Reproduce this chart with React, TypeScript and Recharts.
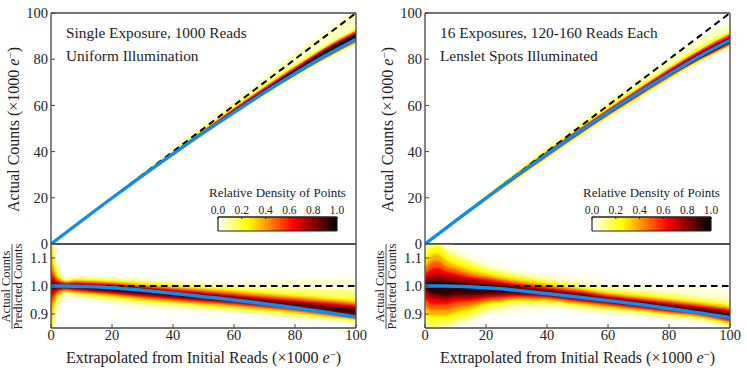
import { ComposedChart, Area, Line, XAxis, YAxis } from 'recharts';

const FONT = "'Liberation Serif', serif";
const INK = '#222';
const AXIS = '#444';
const BLUE = '#0f8bf2';

// density levels, low to high (hot_r colormap)
const ratioFills = ['#ffffd7', '#ffff73', '#ffff05', '#ffb100', '#ff5a00', '#f50000', '#990000', '#2e0000'];
const countFills = ['#ffffc0', '#ffff05', '#ff5a00', '#c80000', '#200000'];

const xTicks = [0, 20, 40, 60, 80, 100];
const countTicks = [0, 20, 40, 60, 80, 100];
const ratioTicks = [0.9, 1.0, 1.1];
const densityTicks = [0, 0.2, 0.4, 0.6, 0.8, 1];

// left ratio panel: each row is one x, each column one density level
const ratioXLeft = [0, 0.5, 1, 2, 3, 5, 8, 12, 20, 30, 40, 50, 60, 70, 80, 90, 100];
const ratioHiLeft = [
  [1.17, 1.17, 1.17, 1.17, 1.1, 1.06, 1.03, 1.015],
  [1.17, 1.17, 1.14, 1.09, 1.06, 1.04, 1.025, 1.012],
  [1.17, 1.12, 1.09, 1.06, 1.045, 1.03, 1.018, 1.008],
  [1.11, 1.07, 1.05, 1.035, 1.027, 1.02, 1.012, 1.006],
  [1.07, 1.045, 1.033, 1.025, 1.019, 1.014, 1.009, 1.004],
  [1.034, 1.024, 1.018, 1.015, 1.012, 1.009, 1.006, 1.003],
  [1.038, 1.03, 1.024, 1.02, 1.016, 1.012, 1.008, 1.004],
  [1.038, 1.03, 1.024, 1.018, 1.014, 1.01, 1.006, 1.002],
  [1.035, 1.027, 1.02, 1.014, 1.01, 1.006, 1.002, 0.998],
  [1.03, 1.02, 1.012, 1.006, 1.0, 0.996, 0.992, 0.988],
  [1.025, 1.012, 1.004, 0.997, 0.992, 0.987, 0.982, 0.977],
  [1.02, 1.006, 0.997, 0.99, 0.984, 0.978, 0.973, 0.967],
  [1.02, 1.0, 0.99, 0.982, 0.975, 0.968, 0.963, 0.957],
  [1.02, 0.996, 0.98, 0.972, 0.965, 0.958, 0.953, 0.947],
  [1.025, 0.992, 0.972, 0.963, 0.956, 0.949, 0.944, 0.937],
  [1.03, 0.988, 0.963, 0.954, 0.947, 0.94, 0.934, 0.927],
  [1.03, 0.985, 0.955, 0.945, 0.937, 0.93, 0.925, 0.918],
];
const ratioLoLeft = [
  [0.83, 0.83, 0.83, 0.83, 0.9, 0.94, 0.97, 0.985],
  [0.83, 0.83, 0.86, 0.91, 0.94, 0.96, 0.975, 0.988],
  [0.83, 0.88, 0.91, 0.94, 0.955, 0.97, 0.982, 0.992],
  [0.89, 0.93, 0.95, 0.965, 0.973, 0.98, 0.988, 0.994],
  [0.92, 0.955, 0.967, 0.975, 0.981, 0.986, 0.991, 0.996],
  [0.955, 0.972, 0.98, 0.983, 0.986, 0.989, 0.992, 0.996],
  [0.958, 0.966, 0.972, 0.977, 0.981, 0.985, 0.989, 0.994],
  [0.95, 0.96, 0.967, 0.973, 0.977, 0.981, 0.985, 0.99],
  [0.935, 0.948, 0.958, 0.965, 0.97, 0.974, 0.978, 0.983],
  [0.92, 0.937, 0.946, 0.953, 0.958, 0.963, 0.968, 0.974],
  [0.912, 0.93, 0.938, 0.944, 0.949, 0.954, 0.959, 0.965],
  [0.905, 0.92, 0.929, 0.935, 0.94, 0.945, 0.95, 0.956],
  [0.9, 0.912, 0.921, 0.927, 0.932, 0.937, 0.942, 0.947],
  [0.89, 0.902, 0.911, 0.917, 0.922, 0.927, 0.932, 0.938],
  [0.88, 0.892, 0.9, 0.906, 0.911, 0.916, 0.921, 0.927],
  [0.872, 0.882, 0.888, 0.893, 0.898, 0.903, 0.908, 0.914],
  [0.868, 0.873, 0.877, 0.881, 0.885, 0.889, 0.893, 0.899],
];
const ratioFitLeft = [1, 1, 1, 1, 1, 1, 0.999, 0.998, 0.994, 0.985, 0.974, 0.962, 0.95, 0.937, 0.922, 0.906, 0.889];
const ratioIdealLeft = [1, 1, 1, 1, 1, 1, 1, 1, 1, 1, 1, 1, 1, 1, 1, 1, 1];

// right ratio panel
const ratioXRight = [0, 2, 4, 7, 10, 15, 20, 25, 30, 40, 50, 60, 70, 80, 90, 100];
const ratioHiRight = [
  [1.17, 1.13, 1.1, 1.07, 1.055, 1.04, 1.025, 1.012],
  [1.17, 1.17, 1.135, 1.11, 1.085, 1.06, 1.04, 1.02],
  [1.17, 1.17, 1.145, 1.115, 1.09, 1.065, 1.042, 1.022],
  [1.17, 1.13, 1.115, 1.09, 1.07, 1.052, 1.035, 1.018],
  [1.135, 1.115, 1.098, 1.075, 1.06, 1.045, 1.032, 1.015],
  [1.115, 1.09, 1.075, 1.055, 1.042, 1.032, 1.022, 1.01],
  [1.09, 1.07, 1.057, 1.043, 1.033, 1.024, 1.015, 1.006],
  [1.075, 1.055, 1.043, 1.03, 1.022, 1.015, 1.008, 0.999],
  [1.06, 1.043, 1.033, 1.022, 1.013, 1.007, 1.0, 0.993],
  [1.045, 1.025, 1.015, 1.006, 0.999, 0.993, 0.987, 0.981],
  [1.03, 1.01, 1.0, 0.992, 0.986, 0.98, 0.975, 0.97],
  [1.015, 0.995, 0.983, 0.975, 0.969, 0.964, 0.959, 0.954],
  [1.005, 0.985, 0.972, 0.964, 0.957, 0.952, 0.947, 0.942],
  [1.0, 0.975, 0.96, 0.952, 0.946, 0.94, 0.935, 0.93],
  [0.995, 0.962, 0.948, 0.94, 0.934, 0.928, 0.923, 0.917],
  [0.985, 0.95, 0.935, 0.926, 0.92, 0.914, 0.908, 0.902],
];
const ratioLoRight = [
  [0.83, 0.87, 0.9, 0.92, 0.935, 0.955, 0.975, 0.99],
  [0.83, 0.83, 0.87, 0.895, 0.915, 0.935, 0.955, 0.975],
  [0.83, 0.853, 0.875, 0.895, 0.915, 0.935, 0.955, 0.97],
  [0.83, 0.86, 0.875, 0.895, 0.915, 0.935, 0.95, 0.965],
  [0.855, 0.87, 0.885, 0.905, 0.925, 0.942, 0.958, 0.97],
  [0.865, 0.885, 0.9, 0.918, 0.932, 0.946, 0.958, 0.97],
  [0.89, 0.91, 0.925, 0.938, 0.947, 0.955, 0.963, 0.973],
  [0.9, 0.92, 0.935, 0.945, 0.952, 0.96, 0.967, 0.975],
  [0.91, 0.932, 0.943, 0.951, 0.958, 0.963, 0.969, 0.976],
  [0.915, 0.932, 0.943, 0.949, 0.955, 0.96, 0.965, 0.97],
  [0.905, 0.922, 0.932, 0.937, 0.942, 0.947, 0.952, 0.958],
  [0.897, 0.912, 0.92, 0.925, 0.93, 0.935, 0.94, 0.945],
  [0.887, 0.902, 0.909, 0.914, 0.918, 0.923, 0.927, 0.932],
  [0.877, 0.891, 0.897, 0.902, 0.906, 0.91, 0.915, 0.92],
  [0.868, 0.88, 0.886, 0.89, 0.895, 0.899, 0.904, 0.909],
  [0.853, 0.858, 0.862, 0.868, 0.873, 0.878, 0.883, 0.89],
];
const ratioFitRight = [1, 1, 1, 1, 0.999, 0.997, 0.994, 0.99, 0.985, 0.973, 0.961, 0.948, 0.935, 0.92, 0.904, 0.887];
const ratioIdealRight = [1, 1, 1, 1, 1, 1, 1, 1, 1, 1, 1, 1, 1, 1, 1, 1];

// left counts panel
const countXLeft = [0, 20, 30, 40, 50, 60, 70, 80, 90, 100];
const countHiLeft = [
  [0, 0, 0, 0, 0],
  [20.4, 20.2, 20.1, 20, 19.95],
  [31, 30.4, 30.1, 29.9, 29.7],
  [41.4, 40.3, 39.8, 39.5, 39.2],
  [52, 50, 49.3, 48.9, 48.5],
  [62, 59.6, 58.9, 58.3, 57.8],
  [72.5, 69, 68, 67.4, 66.7],
  [83, 78, 76.8, 76.1, 75.5],
  [92, 86, 85.2, 84.6, 83.9],
  [102, 93.4, 92.4, 91.7, 91],
];
const countLoLeft = [
  [0, 0, 0, 0, 0],
  [19.4, 19.6, 19.7, 19.8, 19.85],
  [28.6, 28.9, 29.1, 29.3, 29.4],
  [37.8, 38.2, 38.5, 38.7, 38.9],
  [46.8, 47.2, 47.5, 47.8, 48],
  [55.6, 56, 56.3, 56.7, 56.9],
  [64, 64.4, 64.8, 65.2, 65.5],
  [72, 72.4, 72.8, 73.3, 73.7],
  [79.6, 80, 80.4, 81, 81.6],
  [86.5, 86.8, 87.3, 88, 88.6],
];
const countFitLeft = [0, 19.9, 29.6, 39, 48.2, 57, 65.6, 73.8, 81.6, 88.7];

// right counts panel
const countXRight = [0, 10, 20, 30, 40, 50, 60, 70, 80, 90, 100];
const countHiRight = [
  [0, 0, 0, 0, 0],
  [10.8, 10.5, 10.3, 10.15, 10.05],
  [21.4, 20.9, 20.5, 20.3, 20.1],
  [32, 31, 30.5, 30.2, 29.9],
  [42.6, 41, 40.2, 39.8, 39.4],
  [52.5, 50.2, 49.4, 49, 48.5],
  [62, 59.5, 58.5, 57.9, 57.4],
  [71.5, 68.5, 67.3, 66.7, 66.1],
  [80.5, 77, 76, 75.2, 74.5],
  [89, 85.5, 84, 83.2, 82.4],
  [96, 92.2, 91, 90, 89.2],
];
const countLoRight = [
  [0, 0, 0, 0, 0],
  [9.1, 9.4, 9.6, 9.75, 9.9],
  [18.2, 18.8, 19.1, 19.4, 19.6],
  [27.4, 28, 28.5, 28.8, 29.1],
  [36.6, 37.2, 37.7, 38.1, 38.4],
  [45.6, 46.2, 46.7, 47.1, 47.5],
  [54.2, 55, 55.5, 55.9, 56.2],
  [62.6, 63.2, 63.8, 64.3, 64.7],
  [71, 71.4, 72, 72.5, 72.9],
  [78.6, 79, 79.6, 80, 80.4],
  [85.3, 85.7, 86.2, 86.8, 87.2],
];
const countFitRight = [0, 10, 19.85, 29.6, 38.9, 48.1, 56.9, 65.4, 73.5, 81.3, 88.2];

const buildRows = (xs: number[], hi: number[][], lo: number[][], fit: number[], ideal: number[]) =>
  xs.map((x, i) => {
    const row: Record<string, any> = { x, fit: fit[i], ideal: ideal[i] };
    hi[i].forEach((h, k) => {
      row[`band${k}`] = [lo[i][k], h];
    });
    return row;
  });

const sharedAxis = {
  stroke: AXIS,
  strokeWidth: 1.3,
  tickLine: { stroke: AXIS, strokeWidth: 1 },
  tickSize: -4,
  allowDataOverflow: true,
  tick: { fontSize: 14.5, fontFamily: FONT, fill: INK },
};

function Bands({ fills, className }: { fills: string[]; className: string }) {
  return fills.map((fill, k) => (
    <Area
      key={k}
      className={className}
      type="monotone"
      dataKey={`band${k}`}
      fill={fill}
      fillOpacity={1}
      stroke="none"
      dot={false}
      activeDot={false}
      isAnimationActive={false}
    />
  ));
}

function Curves({ width }: { width: number }) {
  return [
    <Line
      key="ideal"
      type="linear"
      dataKey="ideal"
      stroke="#000"
      strokeWidth={2}
      strokeDasharray="6.5 4.5"
      dot={false}
      activeDot={false}
      isAnimationActive={false}
    />,
    <Line
      key="fit"
      type="monotone"
      dataKey="fit"
      stroke={BLUE}
      strokeWidth={width}
      dot={false}
      activeDot={false}
      isAnimationActive={false}
    />,
  ];
}

function CountPanel({ rows, left, lines }: { rows: any[]; left: number; lines: string[] }) {
  return (
    <div style={{ position: 'absolute', left, top: 0 }}>
      <ComposedChart width={373} height={260} data={rows} margin={{ top: 12, right: 12, bottom: 1, left: 11 }}>
        {Bands({ fills: countFills, className: 'count-band' })}
        {Curves({ width: 3.3 })}
        <XAxis dataKey="x" type="number" domain={[0, 100]} ticks={xTicks} height={15} {...sharedAxis} tick={false} />
        <XAxis xAxisId="top" orientation="top" type="number" domain={[0, 100]} ticks={xTicks} height={1} {...sharedAxis} tick={false} />
        <YAxis type="number" domain={[0, 100]} ticks={countTicks} width={40} tickMargin={7} {...sharedAxis} />
        <YAxis yAxisId="right" orientation="right" type="number" domain={[0, 100]} ticks={countTicks} width={5} {...sharedAxis} tick={false} />
        <text x={66} y={38} fontFamily={FONT} fontSize={15.35} fill={INK}>{lines[0]}</text>
        <text x={66} y={61} fontFamily={FONT} fontSize={15.35} fill={INK}>{lines[1]}</text>
        <text transform="translate(19,129.5) rotate(-90)" textAnchor="middle" fontFamily={FONT} fontSize={16} fill={INK}>
          Actual Counts (×1000 <tspan fontStyle="italic">e</tspan>
          <tspan dy={-5} fontSize={11}>−</tspan>
          <tspan dy={5}>)</tspan>
        </text>
      </ComposedChart>
    </div>
  );
}

function RatioPanel({ rows, left }: { rows: any[]; left: number }) {
  return (
    <div style={{ position: 'absolute', left, top: 230 }}>
      <ComposedChart width={373} height={144} data={rows} margin={{ top: 13, right: 12, bottom: 16, left: 11 }}>
        {Bands({ fills: ratioFills, className: 'ratio-band' })}
        {Curves({ width: 3.5 })}
        <XAxis dataKey="x" type="number" domain={[0, 100]} ticks={xTicks} height={30} tickMargin={6} {...sharedAxis} />
        <XAxis xAxisId="top" orientation="top" type="number" domain={[0, 100]} ticks={xTicks} height={1} {...sharedAxis} tick={false} />
        <YAxis type="number" domain={[0.85, 1.15]} ticks={ratioTicks} width={40} tickMargin={7} tickFormatter={(v: number) => v.toFixed(1)} {...sharedAxis} />
        <YAxis yAxisId="right" orientation="right" type="number" domain={[0.85, 1.15]} ticks={ratioTicks} width={5} {...sharedAxis} tick={false} />
        <text transform="translate(10,56.5) rotate(-90)" textAnchor="middle" fontFamily={FONT} fontSize={12.5} fill={INK}>Actual Counts</text>
        <line x1={12} x2={12} y1={14} y2={99} stroke={INK} strokeWidth={0.8} />
        <text transform="translate(22,56.5) rotate(-90)" textAnchor="middle" fontFamily={FONT} fontSize={12.5} fill={INK}>Predicted Counts</text>
        <text x={203.5} y={133} textAnchor="middle" fontFamily={FONT} fontSize={16} fill={INK}>
          Extrapolated from Initial Reads (×1000 <tspan fontStyle="italic">e</tspan>
          <tspan dy={-5} fontSize={11}>−</tspan>
          <tspan dy={5}>)</tspan>
        </text>
      </ComposedChart>
    </div>
  );
}

const densityRows = densityTicks.map(x => ({ x, bar: [0, 1] }));

function DensityBar({ left, id }: { left: number; id: string }) {
  return (
    <div style={{ position: 'absolute', left, top: 185 }}>
      <ComposedChart width={159} height={50} data={densityRows} margin={{ top: 31, right: 19, bottom: 4, left: 19 }}>
        <defs>
          <linearGradient id={id} x1="0" y1="0" x2="1" y2="0">
            <stop offset="0%" stopColor="#ffffff" />
            <stop offset="25.4%" stopColor="#ffff00" />
            <stop offset="63.4%" stopColor="#ff0000" />
            <stop offset="100%" stopColor="#000000" />
          </linearGradient>
        </defs>
        <Area type="linear" dataKey="bar" fill={`url(#${id})`} fillOpacity={1} stroke={INK} strokeWidth={1.2} dot={false} activeDot={false} isAnimationActive={false} />
        <XAxis
          dataKey="x"
          orientation="top"
          type="number"
          domain={[0, 1]}
          ticks={densityTicks}
          height={1}
          stroke={INK}
          tickSize={-2}
          tickMargin={5}
          tickFormatter={(v: number) => v.toFixed(1)}
          tick={{ fontSize: 11.5, fontFamily: FONT, fill: INK }}
          interval={0}
        />
        <YAxis type="number" domain={[0, 1]} ticks={[0, 1]} width={1} tick={false} tickLine={false} stroke={INK} strokeWidth={1.2} />
        <YAxis yAxisId="right" orientation="right" type="number" domain={[0, 1]} ticks={[0, 1]} width={1} tick={false} tickLine={false} stroke={INK} strokeWidth={1.2} />
        <text x={79.5} y={12} textAnchor="middle" fontFamily={FONT} fontSize={13} fill={INK}>Relative Density of Points</text>
      </ComposedChart>
    </div>
  );
}

const leftCounts = buildRows(countXLeft, countHiLeft, countLoLeft, countFitLeft, countXLeft);
const rightCounts = buildRows(countXRight, countHiRight, countLoRight, countFitRight, countXRight);
const leftRatios = buildRows(ratioXLeft, ratioHiLeft, ratioLoLeft, ratioFitLeft, ratioIdealLeft);
const rightRatios = buildRows(ratioXRight, ratioHiRight, ratioLoRight, ratioFitRight, ratioIdealRight);

export default function App() {
  return (
    <div style={{ position: 'absolute', left: 0, top: 0, width: 747, height: 374, background: '#fff', overflow: 'hidden' }}>
      {/* soften the contour steps so they read as a density map */}
      <style>{`
        .ratio-band .recharts-area-area { filter: blur(1.3px); }
        .count-band .recharts-area-area { filter: blur(0.5px); }
      `}</style>
      <CountPanel rows={leftCounts} left={0} lines={['Single Exposure, 1000 Reads', 'Uniform Illumination']} />
      <CountPanel rows={rightCounts} left={374} lines={['16 Exposures, 120-160 Reads Each', 'Lenslet Spots Illuminated']} />
      <RatioPanel rows={leftRatios} left={0} />
      <RatioPanel rows={rightRatios} left={374} />
      <DensityBar left={198} id="densityLeft" />
      <DensityBar left={572} id="densityRight" />
    </div>
  );
}
